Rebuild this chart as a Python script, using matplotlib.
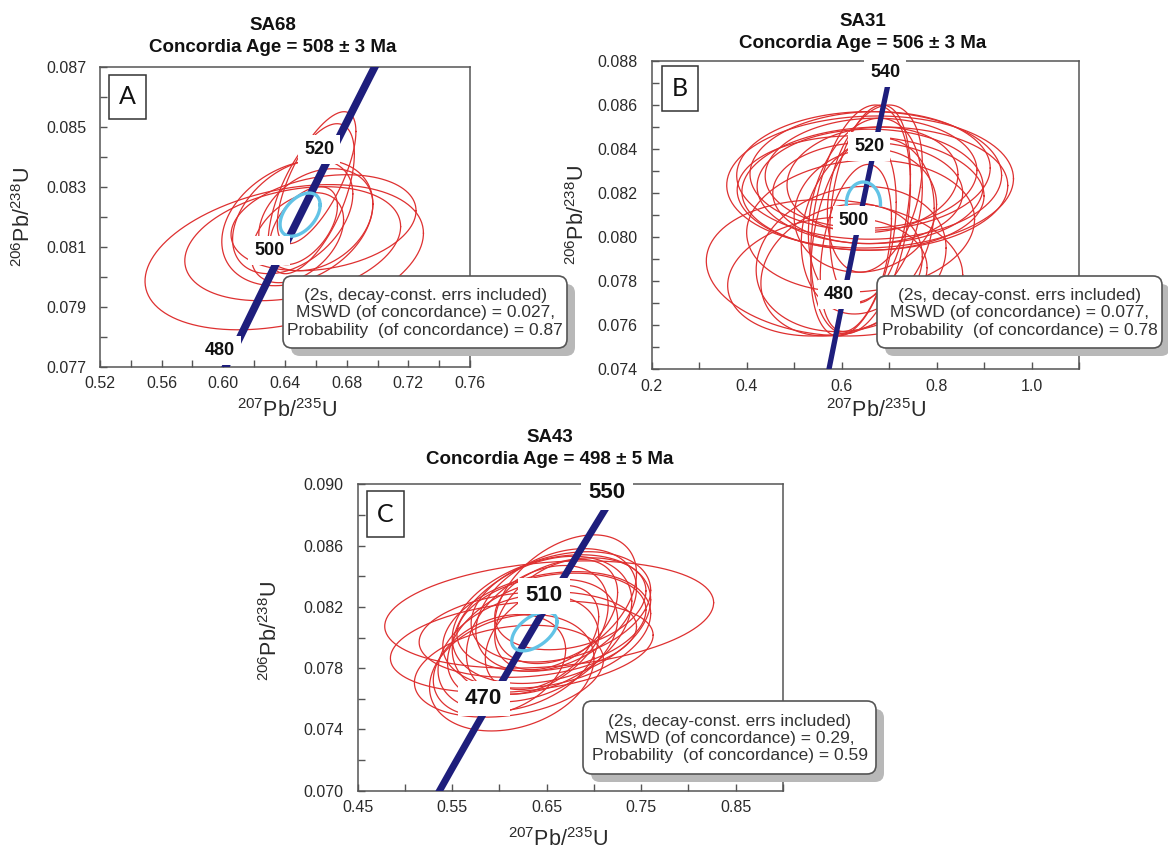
import numpy as np
import matplotlib
matplotlib.use("Agg")
import matplotlib.pyplot as plt
from matplotlib.patches import FancyBboxPatch, Rectangle
from matplotlib.transforms import IdentityTransform
from matplotlib.ticker import FixedLocator, MultipleLocator, FormatStrFormatter

W, H = 1168, 852
plt.rcParams['font.family'] = ['Liberation Sans', 'DejaVu Sans']
plt.rcParams['mathtext.fontset'] = 'custom'
plt.rcParams['mathtext.rm'] = 'Liberation Sans'
plt.rcParams['mathtext.it'] = 'Liberation Sans:italic'
plt.rcParams['mathtext.bf'] = 'Liberation Sans:bold'

# decay constants (1/yr) used to trace the concordia curve
LAMBDA_238 = 1.55125e-10
LAMBDA_235 = 9.8485e-10

# ---------------- Panel A (SA68) ----------------
A_title = ["SA68", "Concordia Age = 508 \u00b1 3 Ma"]
A_x   = [0.6395, 0.645, 0.648, 0.645, 0.6605, 0.657, 0.660, 0.652, 0.648, 0.665]
A_sx  = [0.0903, 0.070, 0.049, 0.039, 0.0255, 0.028, 0.037, 0.022, 0.030, 0.060]
A_y   = [0.08065, 0.0811, 0.0818, 0.0820, 0.0833, 0.0826, 0.0819, 0.0817, 0.0813, 0.0818]
A_sy  = [0.00242, 0.0019, 0.0021, 0.0019, 0.0022, 0.0025, 0.0017, 0.0013, 0.0015, 0.0016]
A_rho = [0.33, 0.30, 0.30, 0.40, 0.70, 0.60, 0.30, 0.50, 0.40, 0.25]
A_mean = (0.6498, 0.013, 0.08207, 0.00072, 0.45)
A_ages = [480, 500, 520]
A_xticks = [0.52, 0.56, 0.60, 0.64, 0.68, 0.72, 0.76]
A_yticks = [0.077, 0.079, 0.081, 0.083, 0.085, 0.087]
A_stats = ["(2s, decay-const. errs included)",
           "MSWD (of concordance) = 0.027,",
           "Probability  (of concordance) = 0.87"]

# ---------------- Panel B (SA31) ----------------
B_title = ["SA31", "Concordia Age = 506 \u00b1 3 Ma"]
B_x   = [0.660, 0.658, 0.660, 0.660, 0.662, 0.655, 0.665, 0.640, 0.670,
         0.640, 0.625, 0.660, 0.650, 0.630, 0.655, 0.670,
         0.620, 0.600, 0.650, 0.640, 0.570, 0.585]
B_sx  = [0.302, 0.279, 0.253, 0.238, 0.223, 0.200, 0.180, 0.260, 0.280,
         0.105, 0.090, 0.085, 0.120, 0.075, 0.140, 0.100,
         0.200, 0.170, 0.150, 0.240, 0.210, 0.270]
B_y   = [0.0825, 0.0828, 0.0830, 0.0823, 0.0829, 0.0820, 0.0826, 0.0820, 0.0822,
         0.0808, 0.0800, 0.0815, 0.0812, 0.0795, 0.0805, 0.0822,
         0.0790, 0.0785, 0.0812, 0.0805, 0.0782, 0.0786]
B_sy  = [0.0030, 0.0029, 0.0027, 0.0026, 0.0025, 0.0023, 0.0024, 0.0026, 0.0028,
         0.0052, 0.0045, 0.0045, 0.0042, 0.0038, 0.0040, 0.0038,
         0.0033, 0.0030, 0.0028, 0.0030, 0.0027, 0.0031]
B_rho = [0.05, 0.00, 0.05, 0.00, 0.05, 0.00, 0.10, -0.05, 0.05,
         0.30, 0.35, 0.30, 0.25, 0.35, 0.20, 0.30,
         0.15, 0.20, 0.10, 0.10, 0.15, -0.10]
B_mean = (0.6459, 0.036, 0.0815, 0.0010, 0.0)
B_ages = [480, 500, 520, 540]
B_xticks = [0.2, 0.4, 0.6, 0.8, 1.0]
B_yticks = [0.074, 0.076, 0.078, 0.080, 0.082, 0.084, 0.086, 0.088]
B_stats = ["(2s, decay-const. errs included)",
           "MSWD (of concordance) = 0.077,",
           "Probability  (of concordance) = 0.78"]

# ---------------- Panel C (SA43) ----------------
C_title = ["SA43", "Concordia Age = 498 \u00b1 5 Ma"]
C_x   = [0.6526, 0.6236, 0.613, 0.655, 0.645, 0.660, 0.650, 0.640, 0.665, 0.635,
         0.670, 0.620, 0.655, 0.600, 0.610, 0.660, 0.645, 0.675, 0.630]
C_sx  = [0.174, 0.139, 0.087, 0.105, 0.095, 0.085, 0.110, 0.075, 0.095, 0.090,
         0.075, 0.085, 0.100, 0.070, 0.100, 0.065, 0.060, 0.080, 0.115]
C_y   = [0.0815, 0.0794, 0.0777, 0.0812, 0.0808, 0.0818, 0.0805, 0.0805, 0.0820, 0.0798,
         0.0825, 0.0790, 0.0810, 0.0782, 0.0778, 0.0815, 0.0800, 0.0822, 0.0802]
C_sy  = [0.0035, 0.0030, 0.0038, 0.0042, 0.0045, 0.0040, 0.0038, 0.0042, 0.0036, 0.0040,
         0.0042, 0.0038, 0.0032, 0.0033, 0.0030, 0.0036, 0.0034, 0.0030, 0.0028]
C_rho = [0.22, 0.25, 0.25, 0.30, 0.35, 0.35, 0.28, 0.38, 0.30, 0.35,
         0.40, 0.30, 0.25, 0.30, 0.25, 0.40, 0.40, 0.28, 0.18]
C_mean = (0.637, 0.024, 0.0804, 0.00127, 0.5)
C_ages = [470, 510, 550]
C_xticks = [0.45, 0.55, 0.65, 0.75, 0.85]
C_yticks = [0.070, 0.074, 0.078, 0.082, 0.086, 0.090]
C_stats = ["(2s, decay-const. errs included)",
           "MSWD (of concordance) = 0.29,",
           "Probability  (of concordance) = 0.59"]

RED = '#de3030'
NAVY = '#1e1e7c'
CYAN = '#62c3e6'
SPINE = '#555555'
TXT = '#2a2a2a'


def ellipse_xy(cx, sx, cy, sy, rho, t0=0.0, t1=2 * np.pi):
    t = np.linspace(t0, t1, 240)
    x = cx + sx * np.cos(t)
    y = cy + sy * (rho * np.cos(t) + np.sqrt(1 - rho ** 2) * np.sin(t))
    return x, y


def conc(age_ma):
    a = np.asarray(age_ma) * 1e6
    return np.exp(LAMBDA_235 * a) - 1, np.exp(LAMBDA_238 * a) - 1


def rect(l, r, t, b):
    return [l / W, 1 - b / H, (r - l) / W, (b - t) / H]


fig = plt.figure(figsize=(W / 100, H / 100), dpi=100)
fig.patch.set_facecolor('white')


def panel(box, xlim, ylim, xticks, xminor, yticks, yminor, xfmt,
          xs, sxs, ys, sys_, rhos, mean, mean_arc, ages, age_range,
          lw_conc, lab_fs, lab_off, letter, letter_box):
    ax = fig.add_axes(rect(*box))
    ax.set_xlim(*xlim)
    ax.set_ylim(*ylim)
    ax.xaxis.set_major_locator(FixedLocator(xticks))
    ax.xaxis.set_minor_locator(MultipleLocator(xminor))
    ax.yaxis.set_major_locator(FixedLocator(yticks))
    ax.yaxis.set_minor_locator(MultipleLocator(yminor))
    ax.xaxis.set_major_formatter(FormatStrFormatter(xfmt))
    ax.yaxis.set_major_formatter(FormatStrFormatter('%.3f'))
    ax.tick_params(which='both', direction='in', length=5, width=1,
                   color=SPINE, top=False, right=False)
    ax.tick_params(axis='x', which='major', pad=7, labelsize=11.5, labelcolor=TXT)
    ax.tick_params(axis='y', which='major', pad=10, labelsize=11.5, labelcolor=TXT)
    for s in ax.spines.values():
        s.set_color(SPINE)
        s.set_linewidth(1.1)
        s.set_zorder(2.5)

    for cx, sx, cy, sy, r in zip(xs, sxs, ys, sys_, rhos):
        ex, ey = ellipse_xy(cx, sx, cy, sy, r)
        ax.plot(ex, ey, color=RED, lw=0.9, zorder=2)

    ages_line = np.linspace(age_range[0], age_range[1], 300)
    cxl, cyl = conc(ages_line)
    ax.plot(cxl, cyl, color=NAVY, lw=lw_conc, solid_capstyle='butt', zorder=3)

    if mean_arc:
        mx, my = ellipse_xy(*mean, t0=-0.05, t1=np.pi + 0.05)
    else:
        mx, my = ellipse_xy(*mean)
    ax.plot(mx, my, color=CYAN, lw=2.4, zorder=4)

    for a in ages:
        px, py = conc(a)
        ax.annotate(str(a), xy=(px, py), xytext=lab_off, textcoords='offset pixels',
                    ha='center', va='center', fontsize=lab_fs, fontweight='bold',
                    color='#111111', zorder=6, annotation_clip=False,
                    bbox=dict(boxstyle='square,pad=0.33', fc='white', ec='none'))

    l, r, t, b = letter_box
    fig.add_artist(Rectangle((l, H - b), r - l, b - t, transform=IdentityTransform(),
                             fill=True, fc='white', ec='#333333', lw=1.1, zorder=5))
    fig.text((l + r) / 2 / W, 1 - (t + b) / 2 / H, letter, ha='center', va='center',
             fontsize=18, color='#111111', family=['Lato', 'Liberation Sans'], zorder=6)
    return ax


def stats_box(l, r, t, b, lines, fs):
    rs = 9
    shadow = FancyBboxPatch((l + 8, H - b - 8), r - l, b - t,
                            boxstyle='round,pad=0,rounding_size=%d' % rs,
                            transform=IdentityTransform(), fc='#b8b8b8', ec='none', zorder=7)
    box = FancyBboxPatch((l, H - b), r - l, b - t,
                         boxstyle='round,pad=0,rounding_size=%d' % rs,
                         transform=IdentityTransform(), fc='white', ec='#555555',
                         lw=1.2, zorder=8)
    fig.add_artist(shadow)
    fig.add_artist(box)
    fig.text((l + r) / 2 / W, 1 - ((t + b) / 2 + 1) / H, "\n".join(lines),
             ha='center', va='center', multialignment='center', fontsize=fs,
             color='#333333', linespacing=1.18, zorder=9)


def titles(cx, y1, y2, lines):
    fig.text(cx / W, 1 - y1 / H, lines[0], ha='center', va='center',
             fontsize=13.5, fontweight='bold', color='#111111')
    fig.text(cx / W, 1 - y2 / H, lines[1], ha='center', va='center',
             fontsize=13.5, fontweight='bold', color='#111111')


YLAB = r'$^{206}$Pb/$^{238}$U'
XLAB = r'$^{207}$Pb/$^{235}$U'


def axis_labels(xl, yl):
    fig.text(xl[0] / W, 1 - xl[1] / H, XLAB, ha='center', va='center',
             fontsize=15.5, color=TXT)
    fig.text(yl[0] / W, 1 - yl[1] / H, YLAB, ha='center', va='center',
             fontsize=15.5, color=TXT, rotation=90)


# Panel A
panel((100, 470, 66.7, 366.7), (0.52, 0.76), (0.077, 0.087), A_xticks, 0.02,
      A_yticks, 0.001, '%.2f', A_x, A_sx, A_y, A_sy, A_rho, A_mean, False,
      A_ages, (470, 550), 5.5, 13, (-10, 7), 'A', (109, 146, 75, 119))
titles(273, 25, 47, A_title)
axis_labels((287, 411), (24, 217))
stats_box(283, 567, 276, 348, A_stats, 12.5)

# Panel B
panel((651.7, 1079, 61, 369), (0.2, 1.1), (0.074, 0.088), B_xticks, 0.1,
      B_yticks, 0.001, '%.1f', B_x, B_sx, B_y, B_sy, B_rho, B_mean, True,
      B_ages, (455, 537), 3.8, 13, (-5, 2), 'B', (661.7, 698.3, 66, 111))
titles(863, 22, 43, B_title)
axis_labels((876, 411), (578, 215))
stats_box(877, 1162, 276, 348, B_stats, 12.5)

# Panel C
panel((357.7, 783, 484.3, 790.7), (0.45, 0.90), (0.070, 0.090), C_xticks, 0.05,
      C_yticks, 0.002, '%.2f', C_x, C_sx, C_y, C_sy, C_rho, C_mean, False,
      C_ages, (430, 547), 5.0, 16, (-5, 6), 'C', (366.7, 404, 491, 537))
titles(550, 438, 460, C_title)
axis_labels((558, 840), (271, 631))
stats_box(583, 876, 701, 774, C_stats, 12.5)

fig.savefig('out.png', dpi=100, facecolor='white')
